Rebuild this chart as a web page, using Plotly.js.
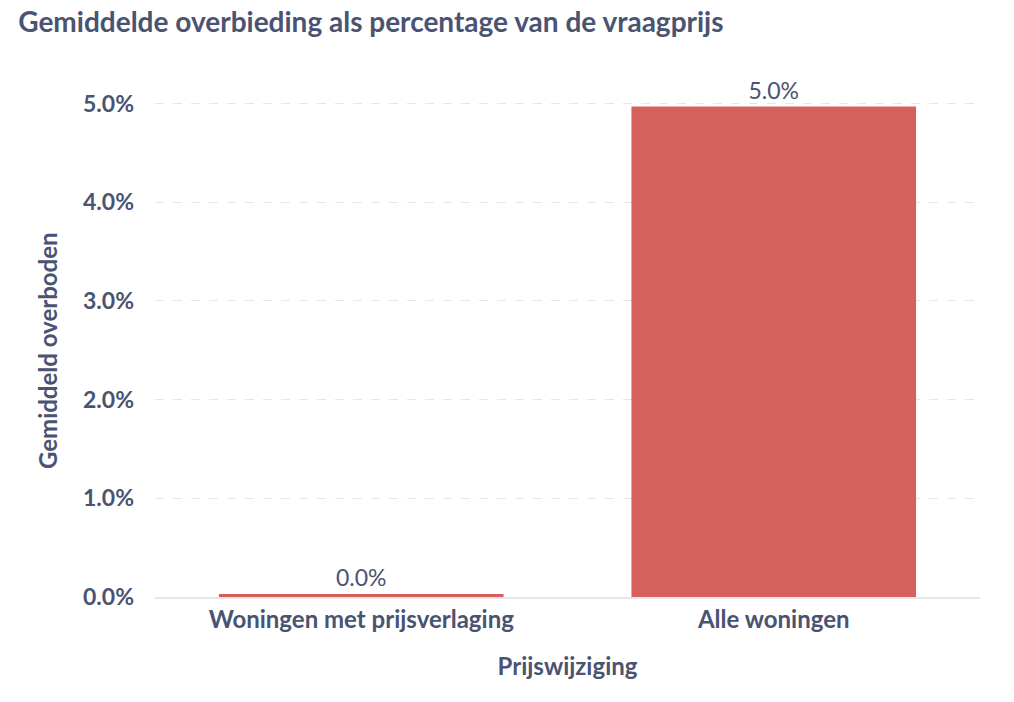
<!DOCTYPE html>
<html>
<head>
<meta charset="utf-8">
<script src="https://cdn.plot.ly/plotly-3.0.1.min.js"></script>
<style>
  html, body { margin: 0; padding: 0; background: #fff; }
  #chart { width: 1014px; height: 702px; }
</style>
</head>
<body>
<div id="chart"></div>
<script>
// Categorieën en waarden (gemiddelde overbieding in %)
const categories = ['Woningen met prijsverlaging', 'Alle woningen'];
const overbiedingPct = [0.03, 4.97];
const valueLabels = ['0.0%', '5.0%'];
const yTickVals = [0, 1, 2, 3, 4, 5];
const yTickText = ['0.0%', '1.0%', '2.0%', '3.0%', '4.0%', '5.0%'];

const textColor = '#4a5372';
const barColor = '#d6605b';

const data = [{
    type: 'bar',
    x: categories,
    y: overbiedingPct,
    text: valueLabels,
    textposition: 'outside',
    cliponaxis: false,
    textfont: { family: 'Lato', size: 23, color: textColor },
    marker: { color: barColor },
    hoverinfo: 'none'
}];

const layout = {
    width: 1014,
    height: 702,
    paper_bgcolor: '#ffffff',
    plot_bgcolor: '#ffffff',
    font: { family: 'Lato', color: textColor },
    title: {
        text: '<b>Gemiddelde overbieding als percentage van de vraagprijs</b>',
        font: { family: 'Lato', size: 28, color: textColor },
        x: 0.018,
        xanchor: 'left',
        y: 0.968,
        yanchor: 'middle'
    },
    margin: { l: 155, r: 34, t: 74, b: 105 },
    bargap: 0.31,
    showlegend: false,
    xaxis: {
        title: {
            text: '<b>Prijswijziging</b>',
            font: { family: 'Lato', size: 24, color: textColor },
            standoff: 26
        },
        tickfont: { family: 'Lato', size: 24, color: textColor, weight: 'bold' },
        showgrid: false,
        showline: true,
        linecolor: '#e6e6e6',
        linewidth: 2,
        ticks: '',
        zeroline: false
    },
    yaxis: {
        range: [0, 5.3],
        tickvals: yTickVals,
        ticktext: yTickText,
        tickfont: { family: 'Lato', size: 23, color: textColor, weight: 'bold' },
        showgrid: true,
        gridcolor: '#e6e6e6',
        griddash: 'dash',
        gridwidth: 1,
        zeroline: false,
        ticks: '',
        ticklabelstandoff: 20
    },
    // y-as titel als annotatie, iets lager gecentreerd zoals in het origineel
    annotations: [{
        text: '<b>Gemiddeld overboden</b>',
        textangle: -90,
        xref: 'paper',
        yref: 'paper',
        x: -0.131,
        y: 0.472,
        xanchor: 'center',
        yanchor: 'middle',
        showarrow: false,
        font: { family: 'Lato', size: 24, color: textColor }
    }]
};

Plotly.newPlot('chart', data, layout, { displayModeBar: false, staticPlot: true });
</script>
</body>
</html>
